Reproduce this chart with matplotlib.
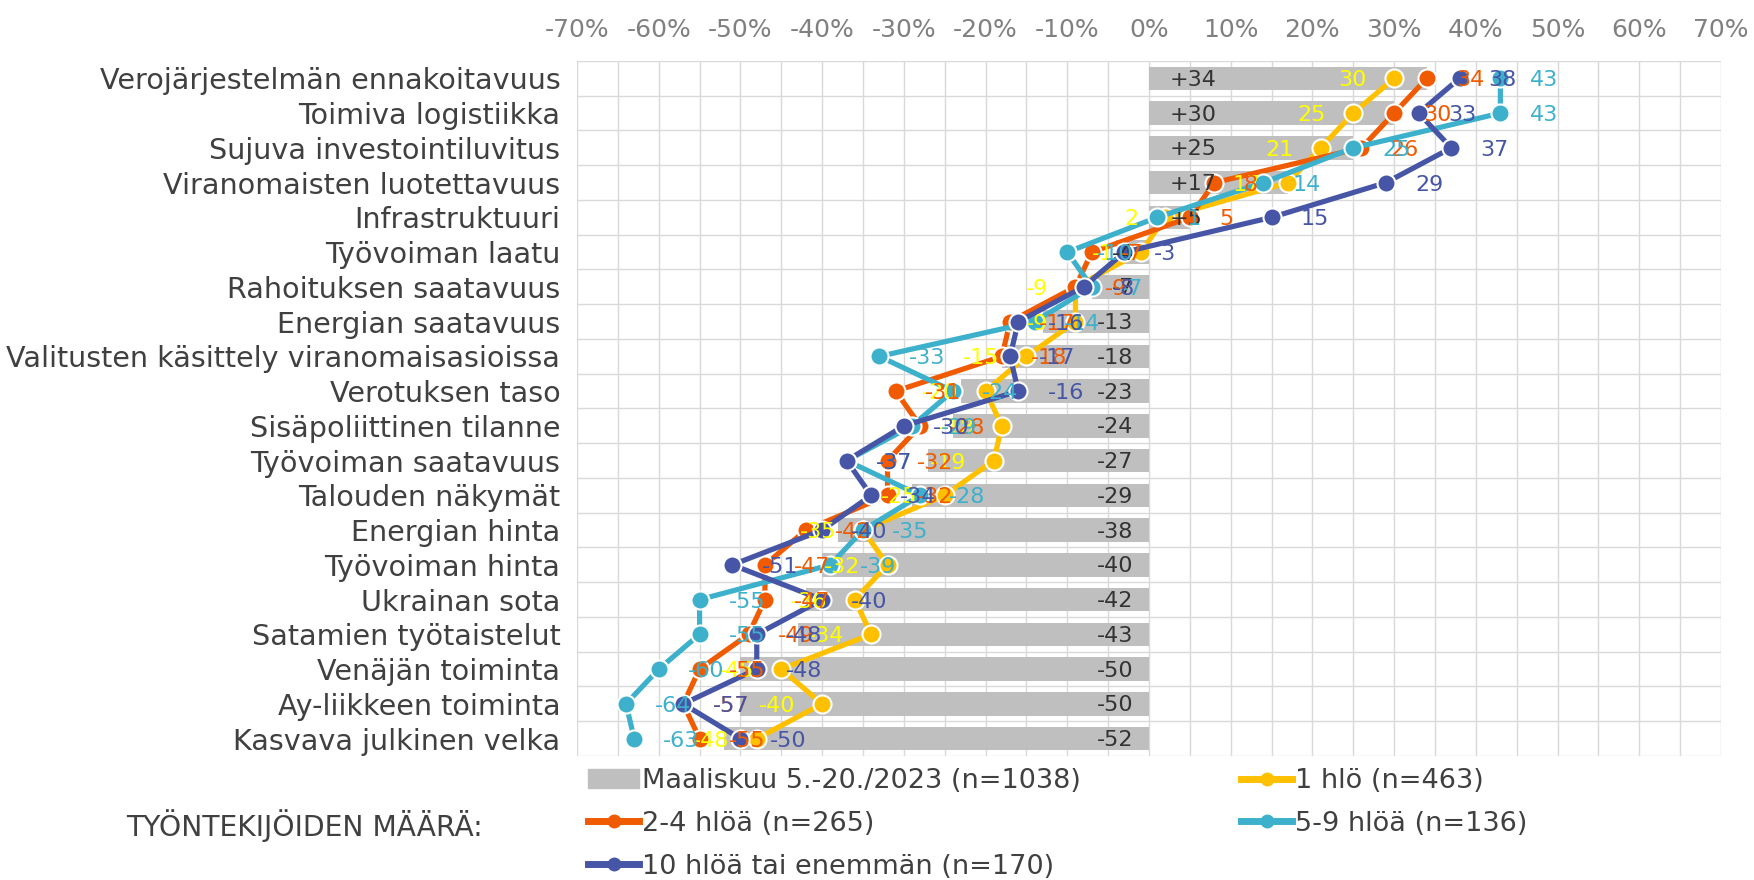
import numpy as np
import matplotlib.pyplot as plt
from matplotlib.lines import Line2D
from matplotlib.patches import Patch

# kategoriat ylhäältä alas
categories = [
    'Verojärjestelmän ennakoitavuus', 'Toimiva logistiikka', 'Sujuva investointiluvitus',
    'Viranomaisten luotettavuus', 'Infrastruktuuri', 'Työvoiman laatu',
    'Rahoituksen saatavuus', 'Energian saatavuus', 'Valitusten käsittely viranomaisasioissa',
    'Verotuksen taso', 'Sisäpoliittinen tilanne', 'Työvoiman saatavuus',
    'Talouden näkymät', 'Energian hinta', 'Työvoiman hinta', 'Ukrainan sota',
    'Satamien työtaistelut', 'Venäjän toiminta', 'Ay-liikkeen toiminta', 'Kasvava julkinen velka',
]
total = [34, 30, 25, 17, 5, -4, -7, -13, -18, -23, -24, -27, -29, -38, -40, -42, -43, -50, -50, -52]
one = [30, 25, 21, 17, 2, -1, -9, -9, -15, -20, -18, -19, -25, -35, -32, -36, -34, -45, -40, -48]
two_four = [34, 30, 26, 8, 5, -7, -9, -17, -18, -31, -28, -32, -32, -42, -47, -47, -49, -55, -57, -55]
five_nine = [43, 43, 25, 14, 1, -10, -7, -14, -33, -24, -29, -37, -28, -35, -39, -55, -55, -60, -64, -63]
ten_plus = [38, 33, 37, 29, 15, -3, -8, -16, -17, -16, -30, -37, -34, -40, -51, -40, -48, -48, -57, -50]

xticks = list(range(-70, 71, 10))

plt.rcParams['font.family'] = ['DejaVu Sans']

W, H = 1754, 880
fig = plt.figure(figsize=(W / 100, H / 100), dpi=100)
ax = fig.add_axes([577 / W, 1 - 756 / H, (1721 - 577) / W, (756 - 61) / H])

y = np.arange(len(categories))

# ruudukko
for gx in range(-70, 71, 5):
    ax.axvline(gx, color='#D9D9D9', lw=1, zorder=0)
for gy in np.arange(-0.5, len(categories), 1):
    ax.axhline(gy, color='#D9D9D9', lw=1, zorder=0)

ax.barh(y, total, height=0.68, color='#BFBFBF', zorder=1)
for v, yy in zip(total, y):
    if v > 0:
        ax.annotate('+%d' % v, (0, yy), xytext=(15, -1), textcoords='offset points',
                    ha='left', va='center', fontsize=16, color='#333333', zorder=10)
    else:
        ax.annotate('%d' % v, (0, yy), xytext=(-11, -1), textcoords='offset points',
                    ha='right', va='center', fontsize=16, color='#333333', zorder=10)

series = [
    (one, '#FFC000', '#FFFF00', '1 hlö (n=463)', 'left'),
    (two_four, '#F05A00', '#F05A00', '2-4 hlöä (n=265)', 'right'),
    (five_nine, '#3DB1CC', '#3DB1CC', '5-9 hlöä (n=136)', 'right'),
    (ten_plus, '#4655A5', '#4655A5', '10 hlöä tai enemmän (n=170)', 'right'),
]
handles = {}
for i, (vals, col, lcol, name, side) in enumerate(series):
    ax.plot(vals, y, color=col, lw=3.75, marker='o', ms=13, mec='white', mew=1.5, zorder=3 + i)
    for v, yy in zip(vals, y):
        if side == 'left':
            ax.annotate(str(v), (v, yy), xytext=(-19.5, -1.5), textcoords='offset points',
                        ha='right', va='center', fontsize=16, color=lcol, zorder=10)
        else:
            ax.annotate(str(v), (v, yy), xytext=(21, -1.5), textcoords='offset points',
                        ha='left', va='center', fontsize=16, color=lcol, zorder=10)
    handles[name] = Line2D([], [], color=col, lw=5, marker='o', ms=9, mec=col)

ax.set_xlim(-70, 70)
ax.set_ylim(len(categories) - 0.5, -0.5)
ax.set_xticks(xticks)
ax.set_xticklabels(['%d%%' % t for t in xticks])
ax.set_yticks(y)
ax.set_yticklabels(categories)
ax.tick_params(axis='x', top=True, labeltop=True, bottom=False, labelbottom=False,
               length=0, pad=14, labelsize=18, labelcolor='#808080')
ax.tick_params(axis='y', length=0, pad=12, labelsize=20.6, labelcolor='#404040')
for s in ax.spines.values():
    s.set_visible(False)

bar_handle = Patch(color='#BFBFBF')
leg_handles = [bar_handle, handles['2-4 hlöä (n=265)'], handles['10 hlöä tai enemmän (n=170)'],
               handles['1 hlö (n=463)'], handles['5-9 hlöä (n=136)']]
leg_labels = ['Maaliskuu 5.-20./2023 (n=1038)', '2-4 hlöä (n=265)', '10 hlöä tai enemmän (n=170)',
              '1 hlö (n=463)', '5-9 hlöä (n=136)']
fig.legend(leg_handles, leg_labels, ncol=2, loc='upper left',
           bbox_to_anchor=(588 / W, 1 - 768 / H), frameon=False, fontsize=19.5,
           handlelength=1.9, handletextpad=0.1, columnspacing=5.9, labelspacing=0.62,
           borderpad=0, borderaxespad=0, labelcolor='#404040')

fig.text(126 / W, 1 - 826 / H, 'TYÖNTEKIJÖIDEN MÄÄRÄ:', ha='left', va='center',
         fontsize=20.3, color='#404040')

fig.savefig('out.png', dpi=100)
